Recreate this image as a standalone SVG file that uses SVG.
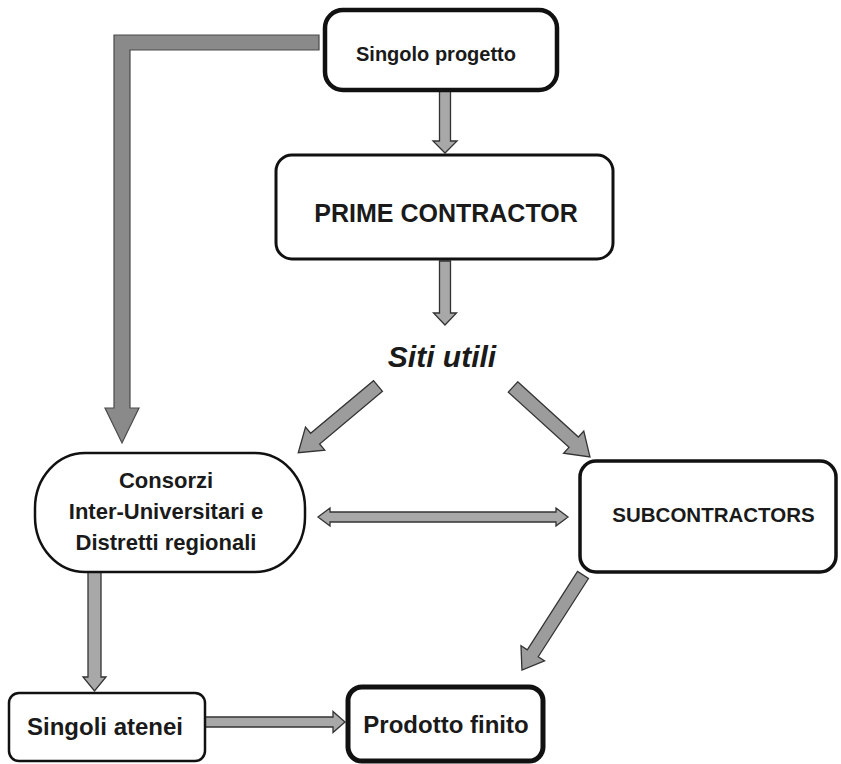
<svg xmlns="http://www.w3.org/2000/svg" width="841" height="764" viewBox="0 0 841 764">
<style>
.box{fill:#ffffff;stroke:#111111}
.lbl{font-family:"Liberation Sans",Arial,sans-serif;font-weight:bold;fill:#1a1a1a;text-anchor:middle}
.arr{fill:#a8a8a8;stroke:#333333;stroke-width:1.3;stroke-linejoin:miter}
.arrd{fill:#9c9c9c;stroke:#333333;stroke-width:1.3}
.arrL{fill:#8a8a8a;stroke:#4a4a4a;stroke-width:1.2}
</style>
<rect width="841" height="764" fill="#ffffff"/>
<g id="connectors">
  <path class="arrL" d="M319,35 L114,35 L114,408 L105,408 L122,443 L139,408 L130,408 L130,50 L319,50 Z"/>
  <path class="arr" d="M439.5,90 L450.5,90 L450.5,141 L457,141 L445,153 L433,141 L439.5,141 Z"/>
  <path class="arr" d="M439.5,261 L450.5,261 L450.5,313 L456.5,313 L445,325 L433.5,313 L439.5,313 Z"/>
  <path class="arrd" transform="translate(378,386) rotate(140.06)" d="M0,-7 L82,-7 L82,-15 L104,0 L82,15 L82,7 L0,7 Z"/>
  <path class="arrd" transform="translate(513,387) rotate(42.27)" d="M0,-7 L82,-7 L82,-15 L104,0 L82,15 L82,7 L0,7 Z"/>
  <path class="arr" d="M318,517 L330,508 L330,512 L556,512 L556,508 L568,517 L556,526 L556,522 L330,522 L330,526 Z"/>
  <path class="arrd" transform="translate(583,575) rotate(122.7)" d="M0,-6.5 L93,-6.5 L93,-14 L113,0 L93,14 L93,6.5 L0,6.5 Z"/>
  <path class="arr" d="M88,572 L101,572 L101,677 L106,677 L94.5,691 L83,677 L88,677 Z"/>
  <path class="arr" d="M205,717 L333,717 L333,711.5 L345,722 L333,732.5 L333,727 L205,727 Z"/>
</g>
<g id="singolo-progetto">
  <rect class="box" x="325" y="10" width="232" height="80" rx="18" stroke-width="4.5"/>
  <text class="lbl" x="436" y="61" font-size="20">Singolo progetto</text>
</g>
<g id="prime-contractor">
  <rect class="box" x="276" y="155" width="337" height="104" rx="16" stroke-width="3"/>
  <text class="lbl" x="446" y="222" font-size="25">PRIME CONTRACTOR</text>
</g>
<g id="siti-utili">
  <text class="lbl" x="442" y="367" font-size="30" font-style="italic">Siti utili</text>
</g>
<g id="consorzi">
  <rect class="box" x="35" y="453" width="270" height="119" rx="50" ry="55" stroke-width="2.5"/>
  <text class="lbl" x="166" y="488" font-size="22">Consorzi</text>
  <text class="lbl" x="166" y="519" font-size="22">Inter-Universitari e</text>
  <text class="lbl" x="166" y="550" font-size="22">Distretti regionali</text>
</g>
<g id="subcontractors">
  <rect class="box" x="580" y="461" width="256" height="111" rx="16" stroke-width="3.5"/>
  <text class="lbl" x="713.5" y="522" font-size="20.5">SUBCONTRACTORS</text>
</g>
<g id="singoli-atenei">
  <rect class="box" x="9" y="693" width="196" height="68" rx="10" stroke-width="2.5"/>
  <text class="lbl" x="105" y="735" font-size="24">Singoli atenei</text>
</g>
<g id="prodotto-finito">
  <rect class="box" x="348" y="687" width="195" height="74" rx="14" stroke-width="5"/>
  <text class="lbl" x="446" y="733" font-size="24">Prodotto finito</text>
</g>
</svg>
